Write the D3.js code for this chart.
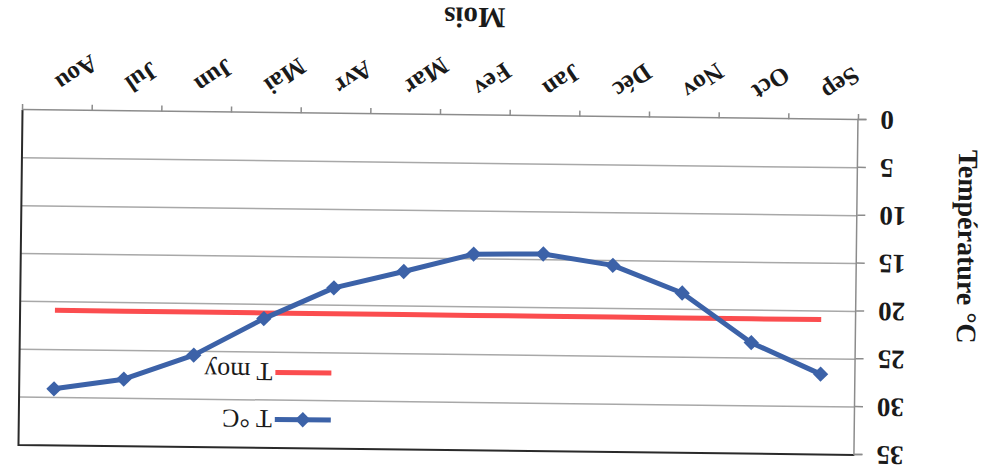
<!DOCTYPE html>
<html>
<head>
<meta charset="utf-8">
<script src="https://cdn.jsdelivr.net/npm/d3@7"></script>
<style>
  body { margin: 0; background: #fff; }
  #chart text { font-family: "Liberation Serif", "Times New Roman", serif; fill: #1a1a1a; }
</style>
</head>
<body>
<div id="chart"></div>
<script>
const months = ['Sep', 'Oct', 'Nov', 'Déc', 'Jan', 'Fev', 'Mar', 'Avr', 'Mai', 'Jun', 'Jul', 'Aou'];
const tempC = [26.6, 23.4, 18.3, 15.5, 14.4, 14.5, 16.4, 18.2, 21.5, 25.4, 28.0, 29.1];
const tMoy = [20.9, 20.9, 20.9, 20.9, 20.9, 20.9, 20.9, 20.9, 20.9, 20.9, 20.9, 20.9];
const yTicks = [0, 5, 10, 15, 20, 25, 30, 35];
const seriesNames = ['T °C', 'T moy'];

let dim = { width: 987, height: 476 };
let plot = { left: 130, right: 966, top: 25.4, bottom: 360.4 };

let svg = d3.select('#chart').append('svg')
    .attr('width', dim.width)
    .attr('height', dim.height);

// the scanned page is upside down and a bit skewed
let g = svg.append('g')
    .attr('transform', `rotate(180.69, ${dim.width / 2}, ${dim.height / 2})`);

let scaleX = d3.scaleBand()
    .domain(months)
    .range([plot.left, plot.right]);

let scaleY = d3.scaleLinear()
    .domain([0, 35])
    .range([plot.bottom, plot.top]);

// gridlines
g.append('g')
    .selectAll('line')
    .data(yTicks.filter(d => d > 0 && d < 35))
    .join('line')
    .attr('x1', plot.left)
    .attr('x2', plot.right)
    .attr('y1', d => scaleY(d))
    .attr('y2', d => scaleY(d))
    .attr('stroke', '#a8a8a8')
    .attr('stroke-width', 1.5);

// plot frame (top + right are dark on the scan)
g.append('path')
    .attr('d', `M${plot.left},${plot.top}H${plot.right}V${plot.bottom}`)
    .attr('fill', 'none')
    .attr('stroke', '#2a2a2a')
    .attr('stroke-width', 2);

let axisY = g.append('g')
    .attr('transform', `translate(${plot.left},0)`)
    .call(d3.axisLeft(scaleY).tickValues(yTicks).tickSize(8).tickPadding(14));
axisY.select('.domain').attr('stroke', '#8c8c8c').attr('stroke-width', 1.5);
axisY.selectAll('.tick line').attr('stroke', '#8c8c8c').attr('stroke-width', 1.5);
axisY.selectAll('.tick text')
    .attr('font-size', 27)
    .attr('font-weight', 'bold')
    .attr('font-family', '"Liberation Serif", serif')
    .attr('fill', '#1a1a1a');

let axisX = g.append('g')
    .attr('transform', `translate(0,${plot.bottom})`)
    .call(d3.axisBottom(scaleX).tickSize(0).tickFormat(''));
axisX.select('.domain').attr('stroke', '#8c8c8c').attr('stroke-width', 1.5);

// ticks between the categories
let bounds = months.map(m => scaleX(m)).concat([plot.right]);
g.append('g')
    .selectAll('line')
    .data(bounds)
    .join('line')
    .attr('x1', d => d).attr('x2', d => d)
    .attr('y1', plot.bottom).attr('y2', plot.bottom + 6)
    .attr('stroke', '#8c8c8c')
    .attr('stroke-width', 1.5);

g.append('g')
    .selectAll('text')
    .data(months)
    .join('text')
    .attr('transform', d => `translate(${scaleX(d) + scaleX.bandwidth() / 2 + 4},392) rotate(-35)`)
    .attr('text-anchor', 'end')
    .attr('font-size', 25)
    .attr('font-weight', 'bold')
    .text(d => d);

// axis titles
g.append('text')
    .attr('x', 515).attr('y', 468)
    .attr('text-anchor', 'middle')
    .attr('font-size', 29)
    .attr('font-weight', 'bold')
    .text('Mois');

g.append('text')
    .attr('transform', 'translate(29,235) rotate(-90)')
    .attr('text-anchor', 'middle')
    .attr('font-size', 28)
    .attr('font-weight', 'bold')
    .text('Température °C');

let cx = d => scaleX(d) + scaleX.bandwidth() / 2;

// T moy
g.append('path')
    .datum(months.map((m, i) => [cx(m), scaleY(tMoy[i])]))
    .attr('d', d3.line())
    .attr('fill', 'none')
    .attr('stroke', '#fb4d4f')
    .attr('stroke-width', 5);

// T °C
const blue = '#3c62a8';
g.append('path')
    .datum(months.map((m, i) => [cx(m), scaleY(tempC[i])]))
    .attr('d', d3.line())
    .attr('fill', 'none')
    .attr('stroke', blue)
    .attr('stroke-width', 5)
    .attr('stroke-linejoin', 'round');

let diamond = d3.symbol(d3.symbolSquare).size(118);
g.append('g')
    .selectAll('path')
    .data(months)
    .join('path')
    .attr('d', diamond)
    .attr('transform', (d, i) => `translate(${cx(d)},${scaleY(tempC[i])}) rotate(45)`)
    .attr('fill', blue);

// legend
let legend = g.append('g').attr('transform', 'translate(654,54)');
let rows = legend.selectAll('g')
    .data(seriesNames)
    .join('g')
    .attr('transform', (d, i) => `translate(0,${i * 47})`);
rows.append('line')
    .attr('x1', 0).attr('x2', 56)
    .attr('stroke', (d, i) => i === 0 ? blue : '#fb4d4f')
    .attr('stroke-width', 5);
rows.filter((d, i) => i === 0).append('path')
    .attr('d', diamond)
    .attr('transform', 'translate(28,0) rotate(45)')
    .attr('fill', blue);
rows.append('text')
    .attr('x', 59)
    .attr('dy', '0.35em')
    .attr('font-size', 26)
    .text(d => d);
</script>
</body>
</html>
